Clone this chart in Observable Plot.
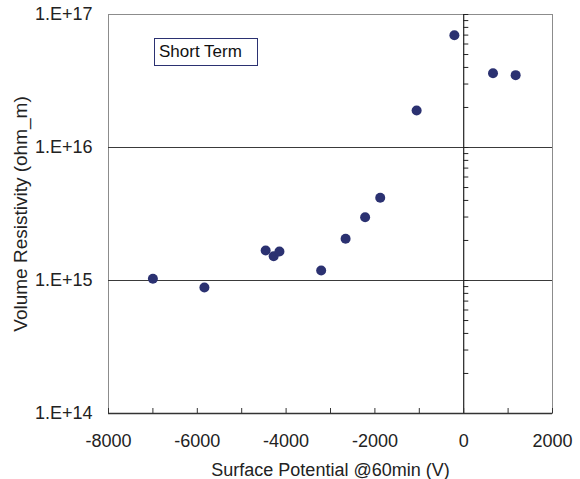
<!DOCTYPE html>
<html>
<head>
<meta charset="utf-8">
<script src="https://cdn.jsdelivr.net/npm/d3@7"></script>
<script src="https://cdn.jsdelivr.net/npm/@observablehq/plot@0.6"></script>
<style>
  html, body { margin: 0; padding: 0; background: #fff; }
  #wrap { position: relative; width: 580px; height: 479px; font-family: Arial, "Liberation Sans", sans-serif; }
  #legend { position: absolute; left: 154px; top: 38px; width: 98px; height: 26px; border: 1px solid #2b3171;
            font-size: 17px; line-height: 26px; padding-left: 4px; box-sizing: content-box; color: #111; background: #fff; }
</style>
</head>
<body>
<div id="wrap"><div id="legend">Short Term</div></div>
<script>
// Data
const surfacePotential = [-7000, -5840, -4460, -4280, -4150, -3210, -2660, -2220, -1880, -1060, -210, 660, 1170];
const volumeResistivity = [1.03e15, 0.885e15, 1.68e15, 1.52e15, 1.65e15, 1.19e15, 2.06e15, 2.99e15, 4.19e15, 1.9e16, 6.98e16, 3.62e16, 3.5e16];
const seriesName = "Short Term";
const xTickLabels = [-8000, -6000, -4000, -2000, 0, 2000];
const xTickMarks = [-8000, -7000, -6000, -5000, -4000, -3000, -2000, -1000, 0, 1000, 2000];
const yTickLabels = [1e14, 1e15, 1e16, 1e17];
const yGridLines = [1e15, 1e16];
const yMinorTicks = [];
for (const decade of [1e14, 1e15, 1e16]) for (let k = 1; k <= 9; k++) yMinorTicks.push(k * decade);
yMinorTicks.push(1e17);

const data = surfacePotential.map((x, i) => ({x, y: volumeResistivity[i]}));
const navy = "#2b3171";

const chart = Plot.plot({
  width: 580,
  height: 479,
  marginLeft: 108,
  marginRight: 28,
  marginTop: 14,
  marginBottom: 66,
  style: {fontFamily: "Arial, 'Liberation Sans', sans-serif", fontSize: "18px", color: "#222", background: "transparent"},
  x: {domain: [-8000, 2000]},
  y: {type: "log", domain: [1e14, 1e17]},
  marks: [
    Plot.frame({stroke: "#8c8c8c"}),
    Plot.ruleY(yGridLines, {stroke: "#3a3a3a", strokeWidth: 1}),
    Plot.ruleX([0], {stroke: "#222", strokeWidth: 1.2}),
    Plot.ruleY(yMinorTicks, {y: d => d, x1: 0, x2: 115, stroke: "#222"}),
    Plot.ruleY([1e14], {stroke: "#333", strokeWidth: 1.3}),
    Plot.ruleX(xTickMarks, {x: d => d, y1: 1e14, y2: 1.09e14, stroke: "#333"}),
    Plot.axisX({ticks: xTickLabels, tickSize: 0, tickPadding: 21, tickFormat: d => String(d),
                label: "Surface Potential @60min (V)", labelAnchor: "center", labelOffset: 62, labelArrow: "none"}),
    Plot.axisY({ticks: yTickLabels, tickSize: 0, tickPadding: 16,
                tickFormat: d => "1.E+" + Math.round(Math.log10(d)), label: null}),
    Plot.axisY({ticks: [], tickSize: 0, fontSize: 19,
                label: "Volume Resistivity (ohm_m)", labelAnchor: "center", labelOffset: 95, labelArrow: "none"}),
    Plot.dot(data, {x: "x", y: "y", r: 5, fill: navy, stroke: null, title: () => seriesName})
  ]
});
document.getElementById("wrap").prepend(chart);
chart.style.position = "absolute";
chart.style.left = "0px";
chart.style.top = "0px";
</script>
</body>
</html>
